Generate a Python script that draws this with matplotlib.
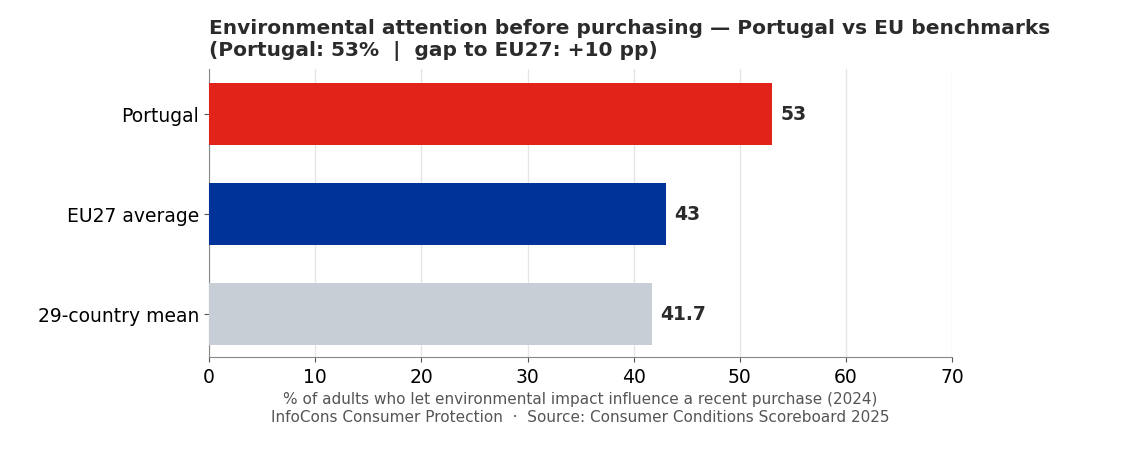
import matplotlib.pyplot as plt

labels = ['Portugal', 'EU27 average', '29-country mean']
values = [53, 43, 41.7]
value_text = ['53', '43', '41.7']
colors = ['#E2231A', '#003399', '#C8CED6']

fig = plt.figure(figsize=(11.38, 4.56), dpi=100)
ax = fig.add_axes([0.1837, 0.215, 0.653, 0.6315])

pos = range(len(labels))
ax.barh(pos, values, height=0.62, color=colors, zorder=3)
for p, v, t in zip(pos, values, value_text):
    ax.text(v + 0.8, p, t, va='center', ha='left', fontsize=13.5,
            fontweight='bold', color='#2b2b2b')

ax.set_yticks(list(pos))
ax.set_yticklabels(labels, fontsize=13.5)
ax.set_ylim(2.43, -0.45)
ax.set_xlim(0, 70)
ax.set_xticks(range(0, 71, 10))
ax.tick_params(axis='x', labelsize=13.5, color='#555555')
ax.tick_params(axis='y', color='#555555')
ax.grid(axis='x', color='#e6e6e6', linewidth=1, zorder=0)
for s in ['top', 'right']:
    ax.spines[s].set_visible(False)
for s in ['left', 'bottom']:
    ax.spines[s].set_color('#888888')

ax.set_xlabel('% of adults who let environmental impact influence a recent purchase (2024)\n'
              'InfoCons Consumer Protection  \u00b7  Source: Consumer Conditions Scoreboard 2025',
              fontsize=11, color='#555555', labelpad=4)
ax.set_title('Environmental attention before purchasing \u2014 Portugal vs EU benchmarks\n'
             '(Portugal: 53%  |  gap to EU27: +10 pp)',
             loc='left', fontsize=14.5, fontweight='bold', color='#2b2b2b', pad=10)

fig.savefig('out.png', dpi=100)
